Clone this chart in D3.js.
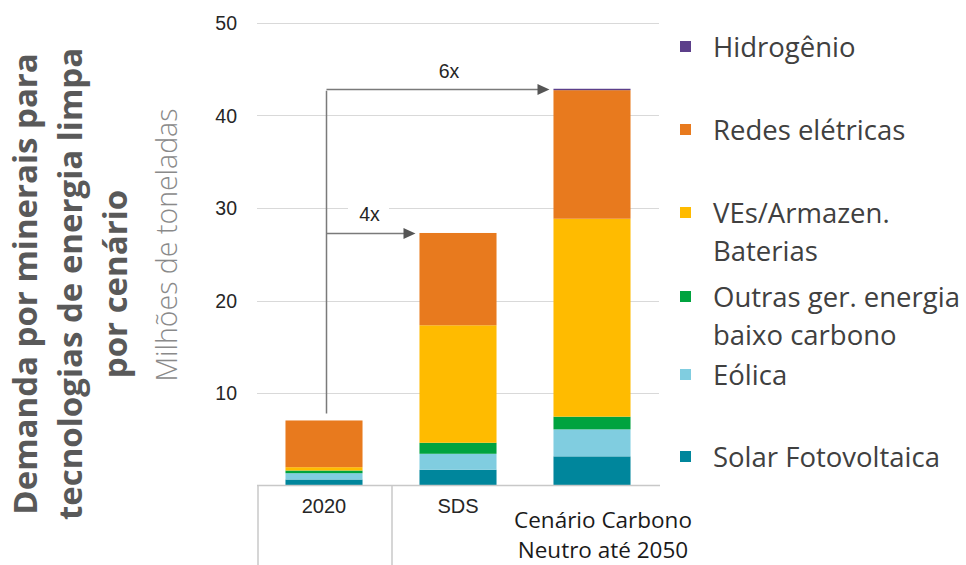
<!DOCTYPE html>
<html><head><meta charset="utf-8">
<script src="https://cdn.jsdelivr.net/npm/d3@7/dist/d3.min.js"></script>
<style>body{margin:0;background:#fff}svg{display:block}</style>
</head><body>
<svg id="c" width="966" height="565"></svg>
<script>
const categories = ["2020", "SDS", "Cenário Carbono|Neutro até 2050"];
const seriesNames = ["Solar Fotovoltaica", "Eólica", "Outras ger. energia baixo carbono", "VEs/Armazen. Baterias", "Redes elétricas", "Hidrogênio"];
const solar = [0.65, 1.7, 3.15];
const eolica = [0.68, 1.73, 2.92];
const outras = [0.29, 1.19, 1.37];
const baterias = [0.36, 12.7, 21.4];
const redes = [5.05, 9.98, 13.9];
const hidrogenio = [0.0, 0.0, 0.15];
const yTicks = [10, 20, 30, 40, 50];
const multipliers = ["4x", "6x"];
const colors = ["#00869C", "#80CDE0", "#00A33F", "#FFBB00", "#E87A1E", "#5C3F8A"];
const legendLines = [["Hidrogênio"], ["Redes elétricas"], ["VEs/Armazen.", "Baterias"], ["Outras ger. energia", "baixo carbono"], ["Eólica"], ["Solar Fotovoltaica"]];

const svg = d3.select("#c");
const y = d3.scaleLinear().domain([0, 50]).range([485.5, 23]);
const x = d3.scaleBand().domain(categories).range([257, 659]).paddingInner(0.425).paddingOuter(0.2125);
const arial = "Liberation Sans, Arial, sans-serif";
const calib = "Open Sans, sans-serif";

// gridlines
svg.append("g").selectAll("line").data(yTicks).join("line")
  .attr("x1", 257).attr("x2", 659)
  .attr("y1", d => Math.round(y(d)) + 0.5).attr("y2", d => Math.round(y(d)) + 0.5)
  .attr("stroke", "#d9d9d9").attr("stroke-width", 1.2);
svg.append("g").selectAll("text").data(yTicks).join("text")
  .attr("x", 237).attr("y", d => y(d)).attr("dy", "0.36em")
  .attr("text-anchor", "end").attr("font-family", arial)
  .attr("font-size", 19.5).attr("fill", "#262626").text(d => d);

// stacked data
const table = categories.map((c, i) => ({cat: c, s0: solar[i], s1: eolica[i], s2: outras[i], s3: baterias[i], s4: redes[i], s5: hidrogenio[i]}));
const stack = d3.stack().keys(["s0", "s1", "s2", "s3", "s4", "s5"])(table);
svg.append("g").selectAll("g").data(stack).join("g").attr("fill", (d, i) => colors[i])
  .selectAll("rect").data(d => d).join("rect")
  .attr("x", d => x(d.data.cat)).attr("width", x.bandwidth())
  .attr("y", d => y(d[1])).attr("height", d => Math.max(0, y(d[0]) - y(d[1])));

// baseline and category separators
svg.append("line").attr("x1", 257).attr("x2", 660).attr("y1", 485.5).attr("y2", 485.5).attr("stroke", "#c8c8c8").attr("stroke-width", 1.5);
[0, 1].forEach(i => {
  const xs = i === 0 ? 258 : x(categories[1]) - x.step() * x.paddingInner() / 2 + 1;
  svg.append("line").attr("x1", xs).attr("x2", xs).attr("y1", 485.5).attr("y2", 565).attr("stroke", "#c8c8c8").attr("stroke-width", 1.5);
});
// category labels
[0, 1].forEach(i => {
  svg.append("text").attr("x", x(categories[i]) + x.bandwidth() / 2).attr("y", 513).attr("text-anchor", "middle")
    .attr("font-family", arial).attr("font-size", 20).attr("fill", "#262626").text(categories[i]);
});
categories[2].split("|").forEach((t, k) => {
  svg.append("text").attr("x", x(categories[2]) + x.bandwidth() / 2 + 11).attr("y", 520 + k * 30).attr("dy", "0.35em").attr("text-anchor", "middle")
    .attr("font-family", calib).attr("font-size", 22.5).attr("fill", "#1a1a1a").text(t);
});

// arrows
const totals = categories.map((c, i) => solar[i] + eolica[i] + outras[i] + baterias[i] + redes[i] + hidrogenio[i]);
const ax = 326.5;
svg.append("line").attr("x1", ax).attr("x2", ax).attr("y1", y(totals[0]) - 7).attr("y2", y(totals[2]) + 2)
  .attr("stroke", "#7a7a7a").attr("stroke-width", 1.5);
[1, 2].forEach(i => {
  const yy = Math.round(y(totals[i])) + 0.5;
  const tip = x(categories[i]) - 4;
  svg.append("line").attr("x1", ax).attr("x2", tip - 10).attr("y1", yy).attr("y2", yy).attr("stroke", "#7a7a7a").attr("stroke-width", 1.5);
  svg.append("path").attr("d", `M${tip},${yy} L${tip - 12},${yy - 5.5} L${tip - 12},${yy + 5.5} Z`).attr("fill", "#555");
});
// 4x label with white background
const l4y = y(totals[1]) - 19;
svg.append("rect").attr("x", 348).attr("y", l4y - 12).attr("width", 41).attr("height", 24).attr("fill", "#fff");
svg.append("text").attr("x", 369.5).attr("y", l4y).attr("dy", "0.36em").attr("text-anchor", "middle")
  .attr("font-family", arial).attr("font-size", 19.5).attr("fill", "#262626").text(multipliers[0]);
svg.append("text").attr("x", 449).attr("y", y(totals[2]) - 18).attr("dy", "0.36em").attr("text-anchor", "middle")
  .attr("font-family", arial).attr("font-size", 19.5).attr("fill", "#262626").text(multipliers[1]);

// y-axis title
svg.append("text").attr("transform", "translate(177,245) rotate(-90)").attr("text-anchor", "middle")
  .attr("font-family", calib).attr("font-weight", 300).attr("font-size", 28.5).attr("fill", "#8a8a8a").text("Milhões de toneladas");

// main title
const titleLines = ["Demanda por minerais para", "tecnologias de energia limpa", "por cenário"];
titleLines.forEach((t, k) => {
  svg.append("text").attr("transform", `translate(${37 + k * 45},284) rotate(-90)`).attr("text-anchor", "middle")
    .attr("font-family", calib).attr("font-weight", "bold").attr("font-size", 33).attr("fill", "#595959").text(t);
});

// legend
const legendY = [47, 130, 213, 297, 375, 457];
const legendColors = [colors[5], colors[4], colors[3], colors[2], colors[1], colors[0]];
legendLines.forEach((lines, i) => {
  svg.append("rect").attr("x", 680).attr("y", legendY[i] - 6).attr("width", 11).attr("height", 11).attr("fill", legendColors[i]);
  lines.forEach((t, k) => {
    svg.append("text").attr("x", 713).attr("y", legendY[i] + k * 38).attr("dy", "0.35em")
      .attr("font-family", calib).attr("font-size", 27.5).attr("fill", "#404040").text(t);
  });
});
</script>
</body></html>
